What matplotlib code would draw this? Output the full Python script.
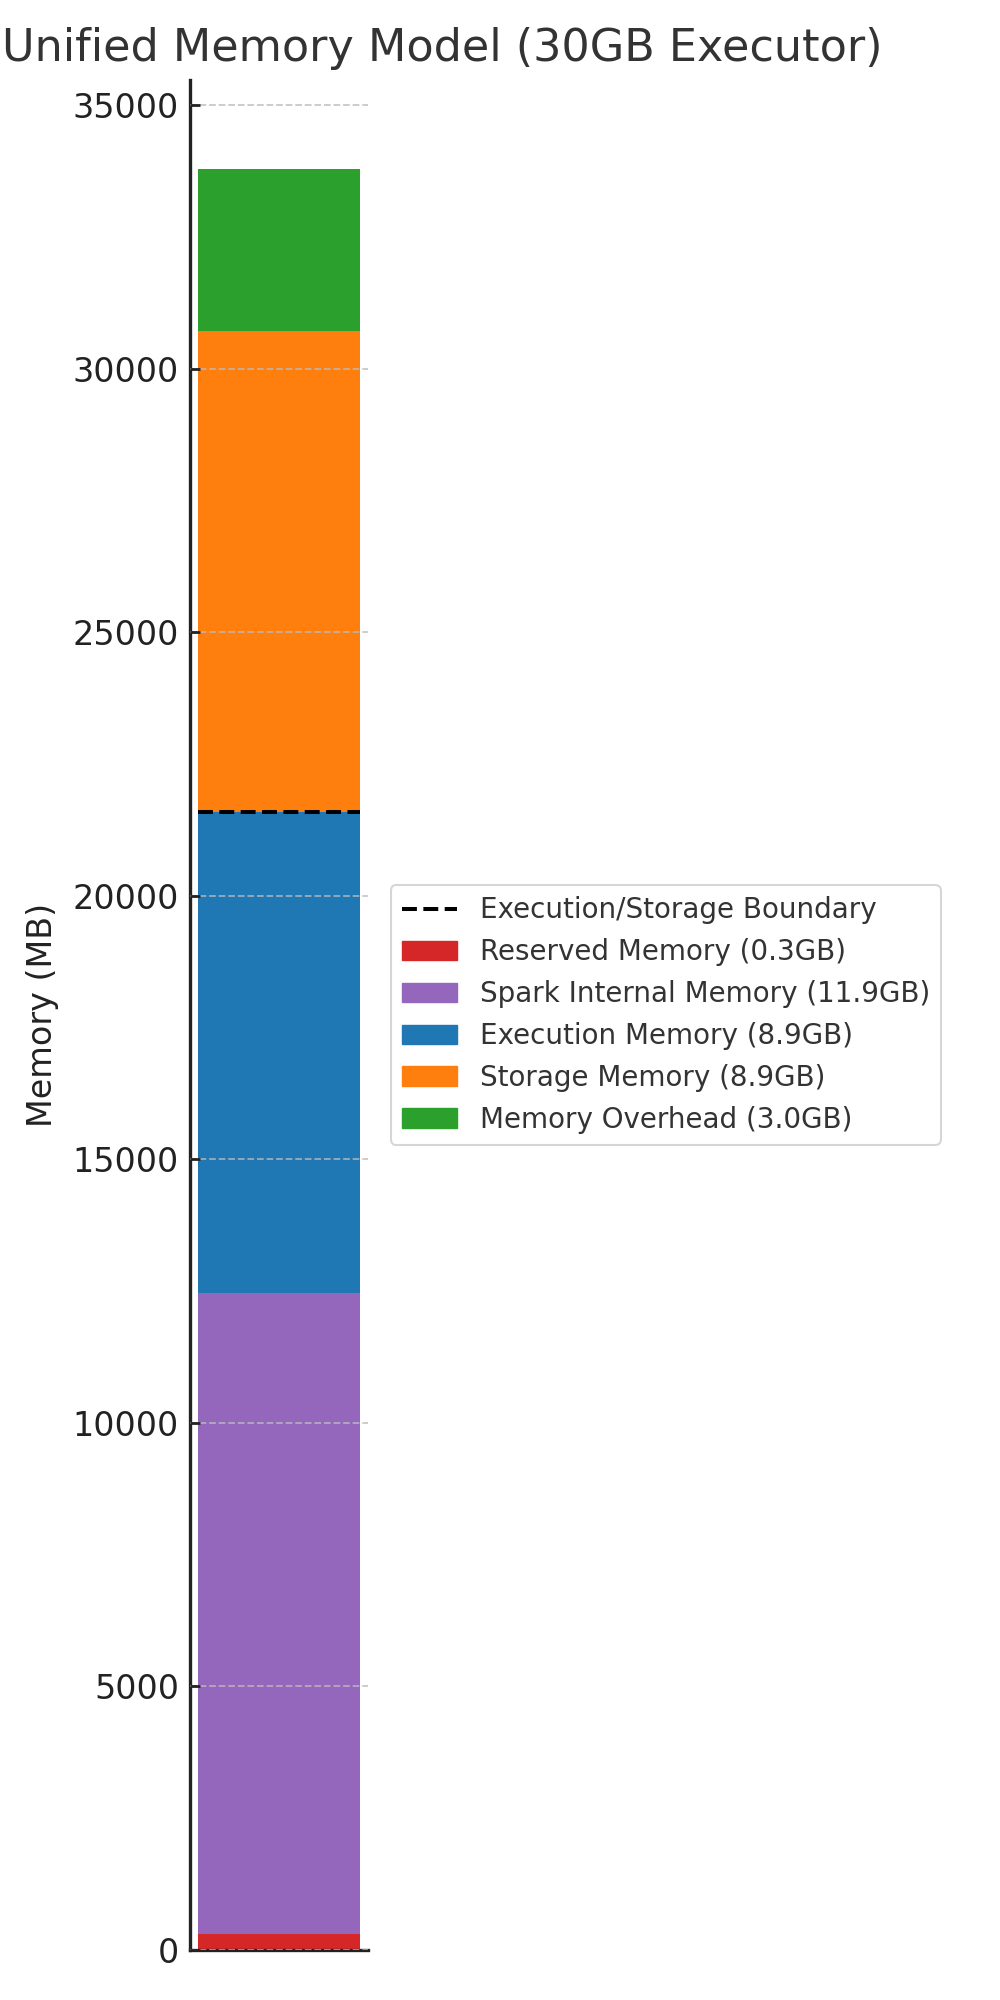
import matplotlib
matplotlib.use("Agg")
import matplotlib.pyplot as plt
from matplotlib.patches import Patch
from matplotlib.lines import Line2D

# executor memory breakdown (MB), bottom to top
components = ["Reserved Memory", "Spark Internal Memory", "Execution Memory",
              "Storage Memory", "Memory Overhead"]
values_mb = [300, 12168, 9126, 9126, 3072]
colors = ["#d62728", "#9467bd", "#1f77b4", "#ff7f0e", "#2ca02c"]
yticks = [0, 5000, 10000, 15000, 20000, 25000, 30000, 35000]

text_col = "#333333"

fig = plt.figure(figsize=(10, 20), dpi=100)
ax = fig.add_axes([0.19, 0.025, 0.178, 0.935])

bottom = 0
for name, val, col in zip(components, values_mb, colors):
    ax.bar(0, val, width=0.8, bottom=bottom, color=col, zorder=1)
    bottom += val

# boundary between execution and storage
boundary = sum(values_mb[:3])
ax.plot([-0.4, 0.4], [boundary, boundary], color="black", linestyle="--",
        linewidth=2.9, zorder=3)

ax.set_yticks(yticks)
ax.set_xticks([])
ax.grid(axis="y", linestyle="--", color="#bbbbbb", linewidth=1.3, alpha=0.8, zorder=2.5)
ax.set_axisbelow(False)

for s in ["top", "right"]:
    ax.spines[s].set_visible(False)
for s in ["left", "bottom"]:
    ax.spines[s].set_linewidth(2.4)
    ax.spines[s].set_color("#222222")
ax.tick_params(axis="y", direction="in", length=7, width=2, labelsize=24,
               colors="#222222", pad=8)

ax.set_ylabel("Memory (MB)", fontsize=24, color="#222222", labelpad=10)

fig.text(0.442, 0.976, "Unified Memory Model (30GB Executor)", fontsize=32,
         color=text_col, ha="center", va="center")

handles = [Line2D([0], [0], color="black", linestyle="--", linewidth=2.9)]
labels = ["Execution/Storage Boundary"]
for name, val, col in zip(components, values_mb, colors):
    handles.append(Patch(color=col))
    labels.append(f"{name} ({val / 1024:.1f}GB)")

leg = ax.legend(handles, labels, loc="center left", bbox_to_anchor=(1.05, 0.5),
                fontsize=20, frameon=True, borderaxespad=0.5)
leg.get_frame().set_edgecolor("#cccccc")
leg.get_frame().set_linewidth(1.5)
for t in leg.get_texts():
    t.set_color(text_col)

fig.savefig("out.png", dpi=100)
